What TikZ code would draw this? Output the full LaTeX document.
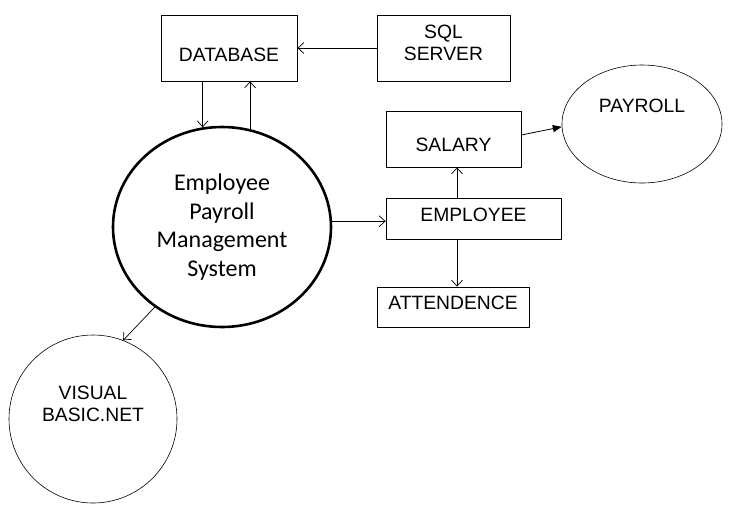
\documentclass[tikz,border=0pt]{standalone}
\usepackage{fontspec}
\setmainfont{Liberation Sans}
\newfontfamily\calibri{Carlito}
\usetikzlibrary{arrows.meta,shapes.geometric}

\begin{document}
\begin{tikzpicture}[x=1pt,y=-1pt,
  box/.style={draw,line width=0.8pt,rectangle,inner sep=0pt,align=center,
    font=\fontsize{19.3}{22}\selectfont},
  bubble/.style={draw,line width=0.6pt,ellipse,inner sep=0pt},
  label/.style={align=center,font=\fontsize{19.3}{22}\selectfont},
  flow/.style={line width=0.7pt,-{Straight Barb[length=6pt,width=11pt]}},
  solidflow/.style={line width=0.8pt,-{Triangle[length=9pt,width=7pt]}}]

  % Page
  \useasboundingbox (0,0) rectangle (731,512);

  % Boxes
  \node (db)   at (229,48)    [box,minimum width=136pt,minimum height=66pt,
    text height=26pt,text depth=0pt] {DATABASE};
  \node (sql)  at (443.5,48)  [box,minimum width=133pt,minimum height=66pt]
    {SQL\\SERVER\rule[-10pt]{0pt}{0pt}};
  \node (sal)  at (453.5,139) [box,minimum width=135pt,minimum height=56pt,
    text height=24pt,text depth=0pt] {SALARY};
  \node (emp)  at (473.5,218.5) [box,minimum width=175pt,minimum height=41pt,
    text height=5pt,text depth=0pt] {EMPLOYEE};
  \node (att)  at (453,307)   [box,minimum width=152pt,minimum height=40pt,
    text height=5pt,text depth=0pt] {ATTENDENCE};

  % Circles
  \node (main) at (222,227) [bubble,line width=2.6pt,minimum width=218pt,minimum height=200pt,
    align=center,font=\calibri\fontsize{24}{28.5}\selectfont]
    {Employee\\Payroll\\Management\\System};
  \node (pay)  at (642,124) [bubble,minimum width=160pt,minimum height=118pt] {};
  \node (vb)   at (93,419)  [bubble,minimum width=168pt,minimum height=168pt] {};

  % Circle texts
  \node (paytext) at (642,106) [label] {PAYROLL};
  \node (vbtext)  at (93,404)  [label] {VISUAL\\BASIC.NET};

  % Connectors
  \draw[flow] (sql.west) -- (db.east);
  \draw[flow] (main.101.5 |- db.south) -- (main.101.5);
  \draw[flow] (main.74.4) -- (main.74.4 |- db.south);
  \draw[flow] (main.3) -- (main.3 -| emp.west);
  \draw[flow] ([xshift=-16.5pt]emp.north) -- ([xshift=-16.5pt]emp.north |- sal.south);
  \draw[flow] ([xshift=-16.5pt]emp.south) -- ([xshift=-16.5pt]emp.south |- att.north);
  \draw[solidflow] ([yshift=4pt]sal.east) -- (pay.182);
  \draw[flow] (main.230) -- (vb.69);

\end{tikzpicture}
\end{document}
